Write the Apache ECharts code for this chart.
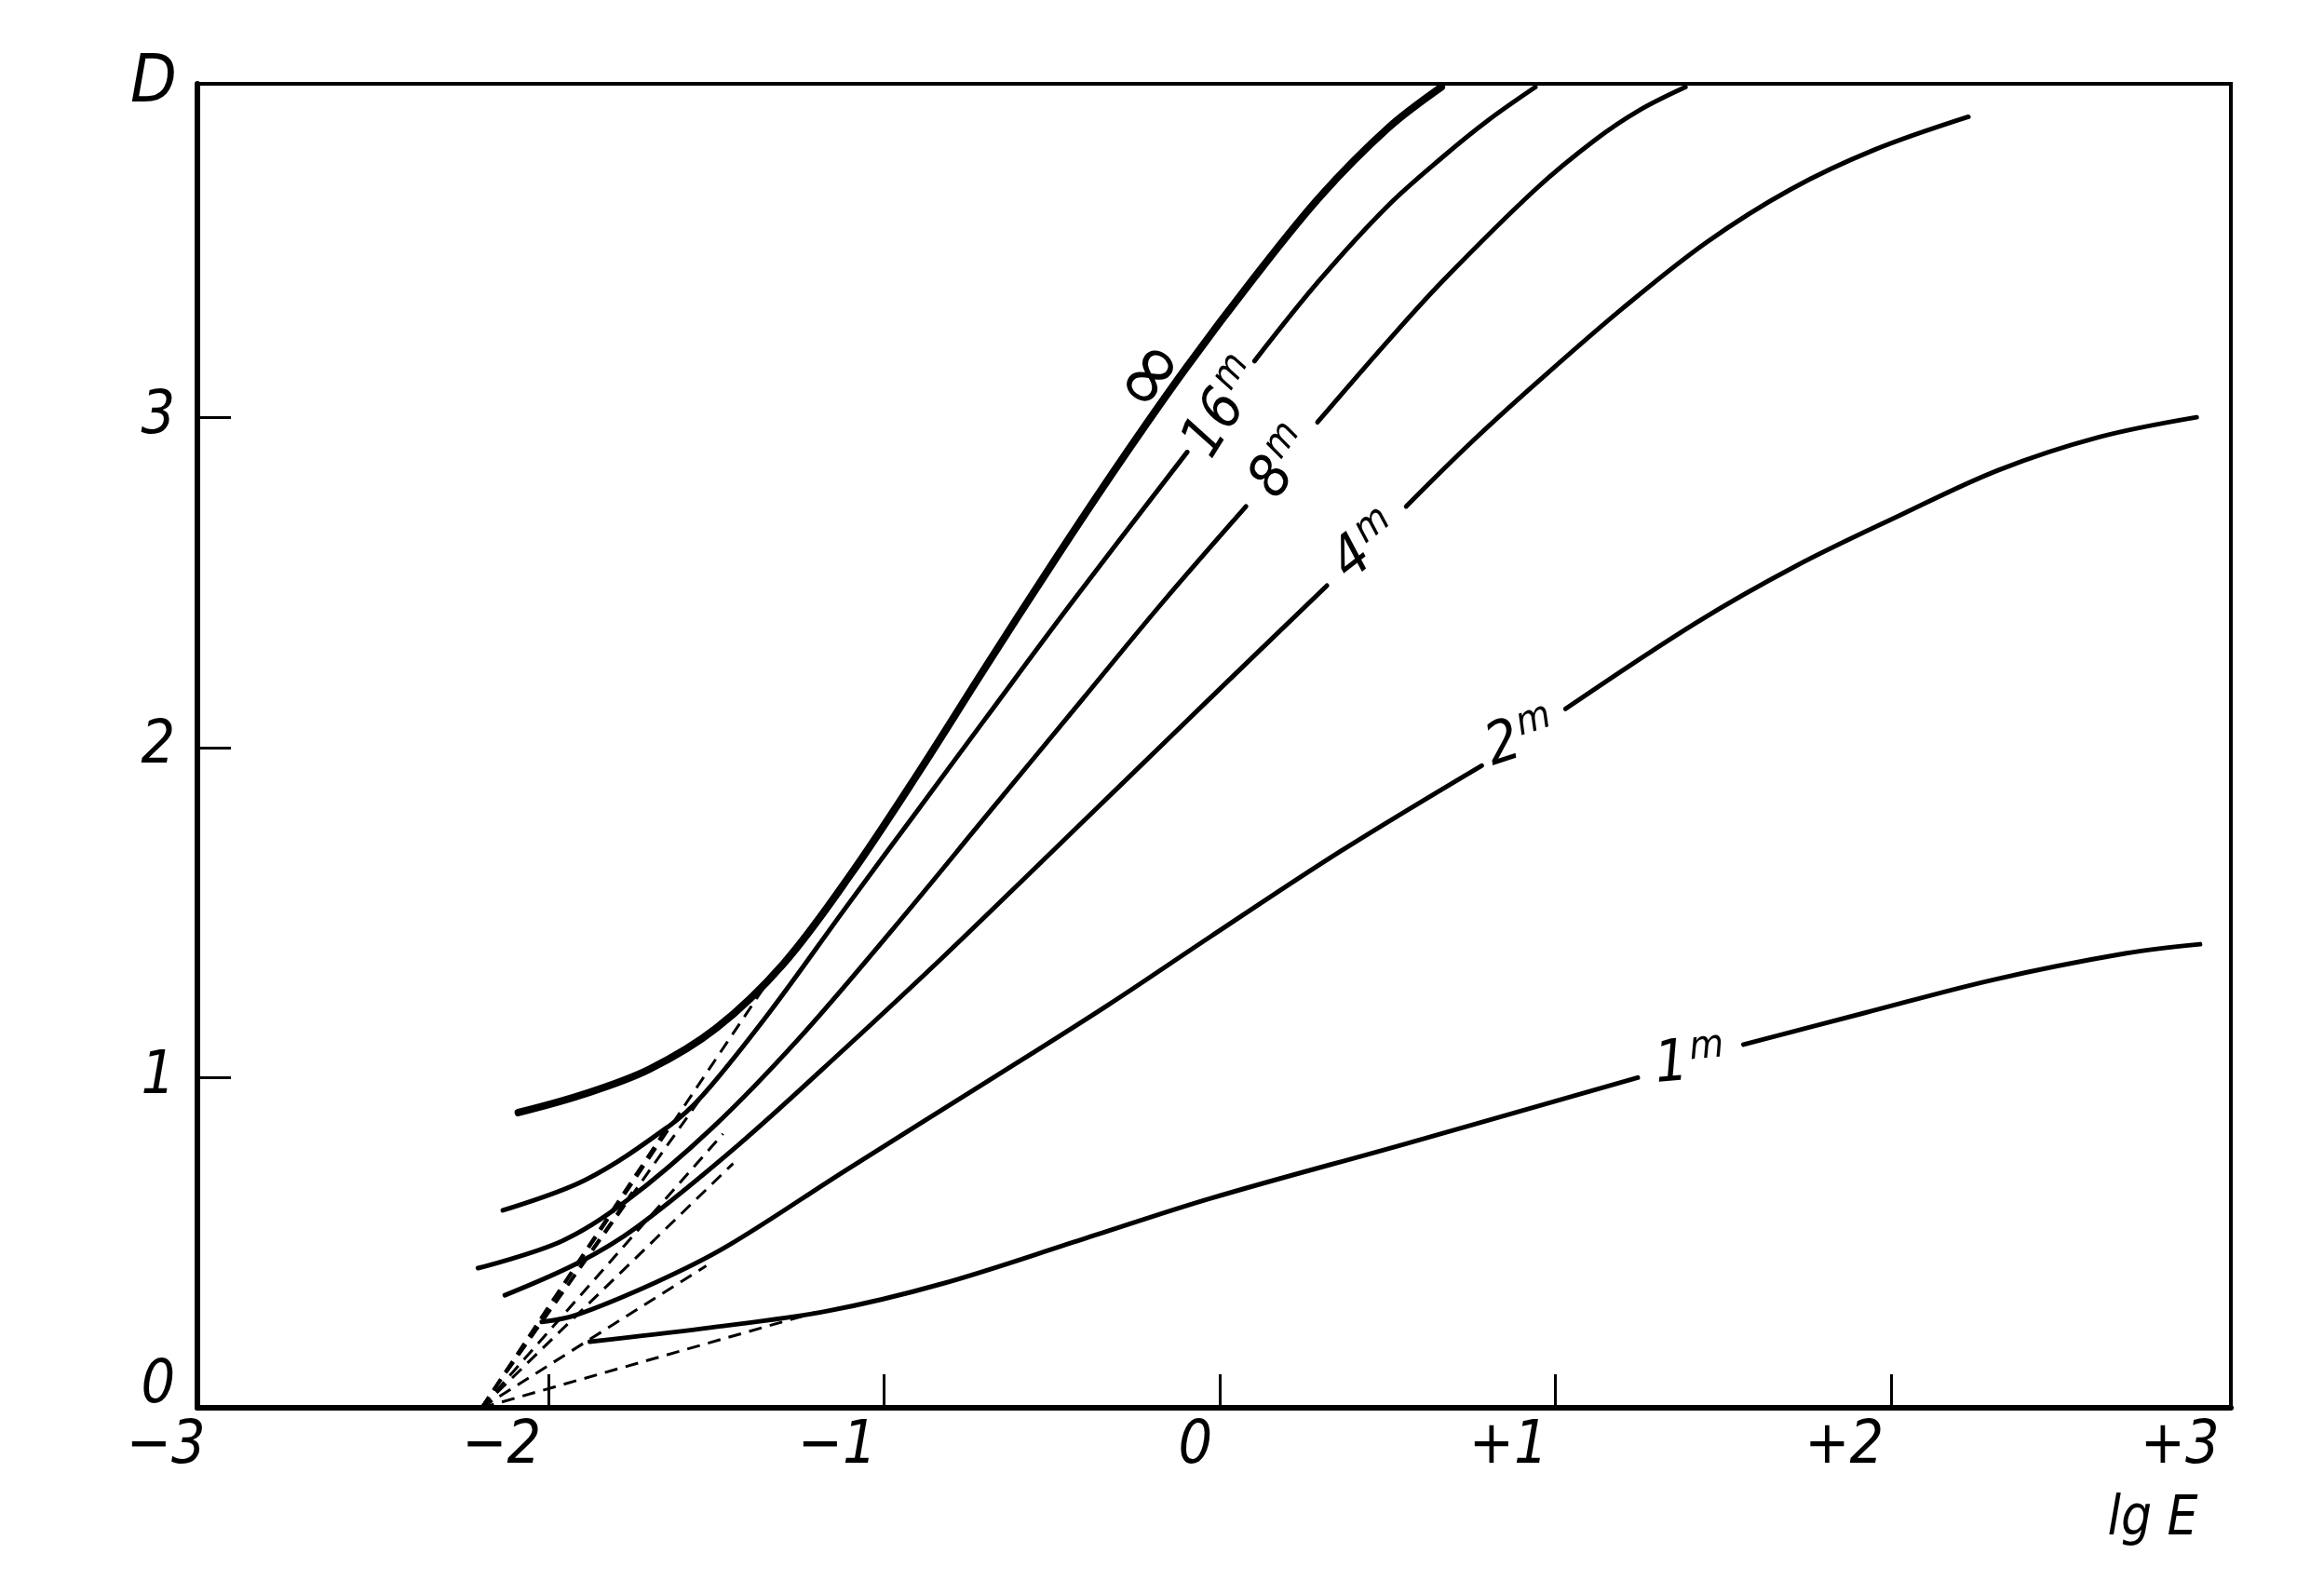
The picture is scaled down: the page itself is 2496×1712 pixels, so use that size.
<!DOCTYPE html>
<html>
<head>
<meta charset="utf-8">
<script src="https://cdn.jsdelivr.net/npm/echarts@6/dist/echarts.min.js"></script>
<style>
html,body{margin:0;padding:0;background:#fff;}
#chart{width:2496px;height:1712px;}
</style>
</head>
<body>
<div id="chart"></div>
<script>
// ---- axis ticks / labels ----
const xTickValues = [-2, -1, 0, 1, 2];
const xLabelValues = [-3, -2, -1, 0, 1, 2, 3];
const yTickValues = [1, 2, 3];
const yLabelValues = [0, 1, 2, 3];

// ---- characteristic curves D(lg E), development time in minutes ----
const curveInf = [[-2.09,0.894],[-1.9,0.948],[-1.7,1.025],[-1.5,1.15],[-1.3,1.345],[-1.1,1.615],[-0.9,1.92],[-0.7,2.24],[-0.5,2.555],[-0.3,2.86],[-0.1,3.15],[0.1,3.42],[0.3,3.67],[0.5,3.875],[0.66,4.0]];
const curve16a = [[-2.136,0.598],[-1.89,0.69],[-1.64,0.854],[-1.54,0.947],[-1.34,1.2],[-1.115,1.514],[-0.9,1.81],[-0.7,2.085],[-0.444,2.435],[-0.097,2.895]];
const curve16b = [[0.103,3.17],[0.297,3.415],[0.5,3.64],[0.666,3.79],[0.8,3.9],[0.94,4.0]];
const curve8a = [[-2.21,0.423],[-1.96,0.505],[-1.77,0.625],[-1.51,0.85],[-1.257,1.115],[-0.974,1.45],[-0.69,1.8],[-0.41,2.145],[-0.17,2.44],[0.078,2.73]];
const curve8b = [[0.291,2.985],[0.5,3.23],[0.666,3.415],[0.94,3.69],[1.118,3.84],[1.25,3.93],[1.387,4.0]];
const curve4a = [[-2.13,0.341],[-1.91,0.44],[-1.74,0.545],[-1.43,0.8],[-1.115,1.09],[-0.83,1.36],[-0.55,1.635],[-0.266,1.915],[-0.028,2.15],[0.319,2.49]];
const curve4b = [[0.555,2.73],[0.75,2.925],[0.95,3.11],[1.2,3.33],[1.45,3.53],[1.7,3.69],[1.95,3.81],[2.23,3.91]];
const curve2a = [[-2.02,0.26],[-1.92,0.28],[-1.68,0.38],[-1.47,0.488],[-1.115,0.719],[-0.69,0.99],[-0.336,1.218],[-0.028,1.427],[0.36,1.686],[0.78,1.945]];
const curve2b = [[1.03,2.117],[1.418,2.377],[1.717,2.55],[2.02,2.7],[2.32,2.84],[2.62,2.94],[2.91,3.0]];
const curve1a = [[-1.877,0.2],[-1.54,0.24],[-1.17,0.293],[-0.83,0.375],[-0.41,0.51],[-0.028,0.634],[0.555,0.8],[1.245,1.0]];
const curve1b = [[1.56,1.1],[1.917,1.195],[2.307,1.297],[2.697,1.376],[2.92,1.404]];

// ---- tangent (dashed) lines from the inertia point ----
const inertiaPoint = [-2.2, 0];
const tangentPoints = [[-1.36,1.27],[-1.545,0.94],[-1.64,0.86],[-1.48,0.83],[-1.75,0.654],[-1.45,0.74],[-1.53,0.43],[-1.2,0.29]];

// ---- curve labels ----
const labelTexts = ['∞', '16', '8', '4', '2', '1'];
const labelPositions = [[-0.2,3.12],[0.01,3.03],[0.185,2.865],[0.435,2.61],[0.895,2.03],[1.4,1.05]];

// ---- styles ----
const F = "'DejaVu Sans',sans-serif";
const W = 'condensed';
const labelRotation = [54, 58, 55, 38, 18, 5];
const curveWidth = 5;

function solid(data, width) {
  return {
    type: 'line', data: data, showSymbol: false, symbol: 'none', smooth: 0.35,
    silent: true, z: 3,
    lineStyle: { color: '#000', width: width, cap: 'round', join: 'round' }
  };
}

const series = [
  solid(curveInf, 8),
  solid(curve16a, curveWidth), solid(curve16b, curveWidth),
  solid(curve8a, curveWidth), solid(curve8b, curveWidth),
  solid(curve4a, curveWidth), solid(curve4b, curveWidth),
  solid(curve2a, curveWidth), solid(curve2b, curveWidth),
  solid(curve1a, curveWidth), solid(curve1b, curveWidth)
];

tangentPoints.forEach(function (p) {
  series.push({
    type: 'line', data: [inertiaPoint, p], showSymbol: false, symbol: 'none', silent: true, z: 2,
    lineStyle: { color: '#000', width: 3, type: [14, 9] }
  });
});

series.push({
  type: 'scatter',
  symbolSize: 0,
  silent: true,
  z: 5,
  itemStyle: { opacity: 1, color: '#000' },
  data: labelTexts.map(function (t, i) {
    return { name: t, value: labelPositions[i], label: { rotate: labelRotation[i] } };
  }),
  label: {
    show: true,
    position: 'inside',
    align: 'center',
    verticalAlign: 'middle',
    color: '#000',
    opacity: 1,
    textBorderWidth: 0,
    formatter: function (p) {
      return p.name === '∞' ? '{i|∞}' : '{d|' + p.name + '}{s|m}';
    },
    rich: {
      i: { fontSize: 92, fontFamily: 'DejaVu Sans', color: '#000', lineHeight: 92, textBorderWidth: 0 },
      d: { fontSize: 62, fontStyle: 'italic', fontWeight: W, fontFamily: F, color: '#000', verticalAlign: 'bottom', lineHeight: 68, textBorderWidth: 0 },
      s: { fontSize: 42, fontStyle: 'italic', fontWeight: W, fontFamily: F, color: '#000', verticalAlign: 'top', lineHeight: 42, padding: [0, 0, 0, 3], textBorderWidth: 0 }
    }
  }
});

function xFmt(v) {
  if (v === 0) return '0';
  return v > 0 ? '+' + v : '\u2212' + Math.abs(v);
}

const chart = echarts.init(document.getElementById('chart'), null, { renderer: 'canvas' });
chart.setOption({
  animation: false,
  backgroundColor: '#fff',
  grid: {
    left: 212, right: 100, top: 90, bottom: 200,
    show: true, borderColor: '#000', borderWidth: 4,
    containLabel: false, outerBoundsMode: 'none'
  },
  xAxis: {
    type: 'value', min: -3.046, max: 3.012,
    axisLine: { show: true, onZero: false, lineStyle: { color: '#000', width: 6 } },
    axisTick: { show: true, inside: true, length: 36, customValues: xTickValues, lineStyle: { color: '#000', width: 3 } },
    axisLabel: {
      customValues: xLabelValues, formatter: xFmt, color: '#000',
      fontSize: 64, fontStyle: 'italic', fontWeight: W, fontFamily: F,
      margin: 10, align: 'right', padding: [0, 8, 0, 0]
    },
    splitLine: { show: false },
    name: 'lg E', nameLocation: 'end', nameGap: -84,
    nameTextStyle: { color: '#000', fontSize: 58, fontStyle: 'italic', fontWeight: W, fontFamily: F, align: 'center', verticalAlign: 'top', padding: [92, 0, 0, 0] }
  },
  yAxis: {
    type: 'value', min: 0, max: 4.01,
    axisLine: { show: true, onZero: false, lineStyle: { color: '#000', width: 6 } },
    axisTick: { show: true, inside: true, length: 36, customValues: yTickValues, lineStyle: { color: '#000', width: 3 } },
    axisLabel: {
      customValues: yLabelValues, color: '#000',
      fontSize: 64, fontStyle: 'italic', fontWeight: W, fontFamily: F, margin: 24,
      formatter: function (v) { return v === 0 ? '{z|0}' : String(v); },
      rich: { z: { fontSize: 64, fontStyle: 'italic', fontWeight: W, fontFamily: F, color: '#000', padding: [0, 0, 46, 0] } }
    },
    splitLine: { show: false },
    name: 'D', nameLocation: 'end', nameGap: 0,
    nameTextStyle: { color: '#000', fontSize: 72, fontStyle: 'italic', fontWeight: W, fontFamily: F, align: 'right', verticalAlign: 'middle', padding: [0, 22, 0, 0] }
  },
  series: series
});
</script>
</body>
</html>
